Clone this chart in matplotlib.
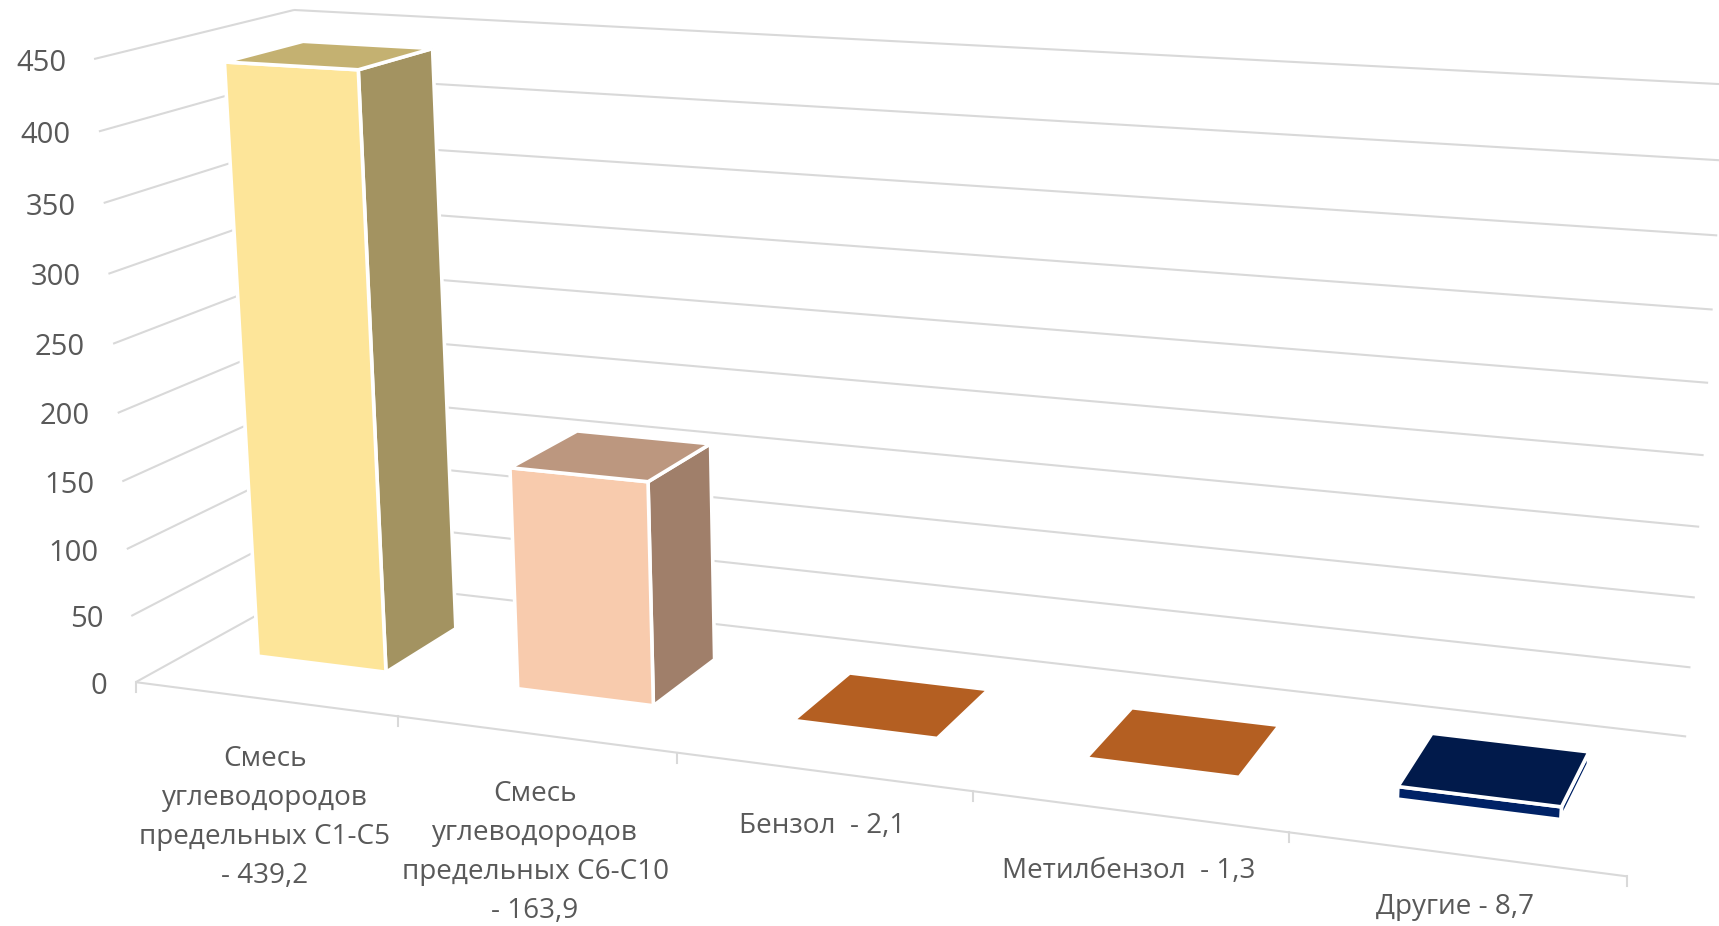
import numpy as np
import matplotlib
matplotlib.use("Agg")
import matplotlib.pyplot as plt

categories = ["Смесь\nуглеводородов\nпредельных С1-С5\n- 439,2",
              "Смесь\nуглеводородов\nпредельных С6-С10\n- 163,9",
              "Бензол  - 2,1",
              "Метилбензол  - 1,3",
              "Другие - 8,7"]
values = [439.2, 163.9, 2.1, 1.3, 8.7]
value_ticks = [0, 50, 100, 150, 200, 250, 300, 350, 400, 450]

front_colors = ["#FDE599", "#F8CBAD", "#C55A11", "#C55A11", "#002266"]
top_colors = ["#C4B171", "#BC977F", "#B45F22", "#B45F22", "#011A4B"]
side_colors = ["#A39361", "#A07F6A", "#9E4F10", "#9E4F10", "#002266"]

# drop of the first label baseline under the floor edge, pixels
label_drop = [67, 67, 61, 67, 60]
line_step = 39

# where known corners of the chart box land on the picture: (cat, value, depth) -> pixel
calib = [
    ((0, 0, 0), (135, 683)), ((1, 0, 0), (398, 715)), ((2, 0, 0), (676, 754)),
    ((3, 0, 0), (973, 792)), ((4, 0, 0), (1289, 832)), ((5, 0, 0), (1627, 875)),
    ((0, 300, 0), (108, 273)), ((0, 350, 0), (104, 203)), ((0, 400, 0), (99, 132)),
    ((0, 450, 0), (95, 59)), ((0, 0, 1), (324, 578)), ((0, 450, 1), (293, 10)),
    ((5, 0, 1), (1686, 737)), ((5, 350, 1), (1717, 236)), ((5, 450, 1), (1727, 84)),
]


def fit_camera(points):
    rows = []
    for (u, v, w), (x, y) in points:
        p = [u / 5, v / 450, w, 1]
        x, y = x / 1000, y / 1000
        rows.append(p + [0, 0, 0, 0] + [-x * c for c in p])
        rows.append([0, 0, 0, 0] + p + [-y * c for c in p])
    return np.linalg.svd(np.array(rows))[2][-1].reshape(3, 4)


camera = fit_camera(calib)


def project(u, v, w):
    h = camera @ np.array([u / 5, v / 450, w, 1])
    return h[0] / h[2] * 1000, h[1] / h[2] * 1000


def segment(ax, a, b, **kw):
    pa, pb = project(*a), project(*b)
    ax.plot([pa[0], pb[0]], [pa[1], pb[1]], solid_capstyle="butt", **kw)


def face(ax, corners, color, zorder):
    pts = [project(*c) for c in corners]
    ax.fill([p[0] for p in pts], [p[1] for p in pts], facecolor=color,
            edgecolor="white", linewidth=2.6, joinstyle="miter", zorder=zorder)


fig = plt.figure(figsize=(17.19, 9.26), dpi=100)
ax = fig.add_axes([0, 0, 1, 1])
ax.set_xlim(0, 1719)
ax.set_ylim(926, 0)
ax.axis("off")

grid = dict(color="#D9D9D9", linewidth=1.5, zorder=1)
text_style = dict(family="Open Sans", fontsize=20.1, color="#595959")

# walls
for t in value_ticks:
    segment(ax, (0, t, 0), (0, t, 1), **grid)
    segment(ax, (0, t, 1), (5, t, 1), **grid)
    x, y = project(0, t, 0)
    ax.text(x - 28, y + 4, str(t), ha="right", va="center",
            family="Open Sans", fontsize=21, color="#595959")

# floor edge and ticks
segment(ax, (0, 0, 0), (5, 0, 0), **grid)
for i in range(len(categories) + 1):
    x, y = project(i, 0, 0)
    ax.plot([x, x], [y, y + 10], **grid)

# bars
half = 0.25
d0, d1 = 0.305, 0.71
for i, val in enumerate(values):
    u0, u1 = i + 0.495 - half, i + 0.495 + half
    z = 3 + i
    face(ax, [(u1, 0, d0), (u1, 0, d1), (u1, val, d1), (u1, val, d0)], side_colors[i], z)
    face(ax, [(u0, 0, d0), (u1, 0, d0), (u1, val, d0), (u0, val, d0)], front_colors[i], z)
    face(ax, [(u0, val, d0), (u1, val, d0), (u1, val, d1), (u0, val, d1)], top_colors[i], z)

# category labels
for i, label in enumerate(categories):
    x, y = project(i + 0.5, 0, 0)
    for j, line in enumerate(label.split("\n")):
        ax.text(x, y + label_drop[i] + j * line_step, line, ha="center", va="baseline", **text_style)

fig.savefig("out.png", dpi=100, facecolor="white")
